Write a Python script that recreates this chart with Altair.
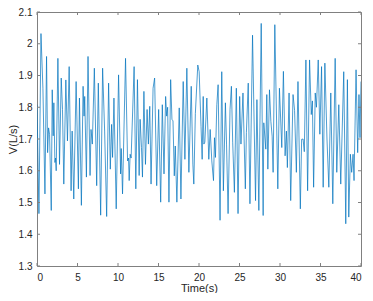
import altair as alt
import pandas as pd

# time (s) and flow (L/s) (turning points of the trace)
time_s = [
    0.00, 0.24, 0.49, 0.73, 0.98, 1.18, 1.31, 1.43, 1.55, 1.76, 1.88, 2.00, 2.08, 2.21, 2.29, 2.37,
    2.58, 2.78, 2.99, 3.15, 3.31, 3.56, 3.76, 3.97, 4.21, 4.34, 4.54, 4.83, 5.11, 5.24, 5.48, 5.69,
    5.81, 5.89, 6.10, 6.30, 6.55, 6.67, 6.83, 7.08, 7.37, 7.57, 7.86, 8.10, 8.35, 8.60, 8.84, 9.05,
    9.21, 9.33, 9.50, 9.78, 10.07, 10.32, 10.40, 10.56, 10.93, 11.18, 11.30, 11.38, 11.50, 11.62,
    11.99, 12.20, 12.40, 12.61, 12.73, 12.90, 13.02, 13.20, 13.39, 13.59, 13.75, 13.92, 14.08, 14.33,
    14.52, 14.78, 15.02, 15.27, 15.47, 15.68, 15.88, 16.01, 16.13, 16.29, 16.50, 16.66, 16.79, 16.95,
    17.07, 17.27, 17.56, 17.77, 18.05, 18.26, 18.50, 18.75, 19.04, 19.24, 19.36, 19.55, 19.85, 20.02,
    20.25, 20.39, 20.52, 20.60, 20.72, 20.97, 21.21, 21.38, 21.58, 21.79, 21.91, 22.03, 22.20, 22.36,
    22.60, 22.81, 23.01, 23.26, 23.40, 23.59, 23.83, 24.00, 24.16, 24.37, 24.61, 24.82, 25.02, 25.18,
    25.43, 25.72, 25.85, 26.08, 26.29, 26.61, 26.98, 27.15, 27.39, 27.68, 27.92, 28.00, 28.25, 28.37,
    28.50, 28.70, 28.87, 29.03, 29.15, 29.36, 29.73, 29.93, 30.22, 30.42, 30.63, 30.79, 30.91, 31.12,
    31.32, 31.61, 31.80, 32.02, 32.22, 32.51, 32.67, 32.85, 33.00, 33.20, 33.41, 33.65, 33.86, 34.00,
    34.15, 34.35, 34.50, 34.72, 34.92, 35.13, 35.33, 35.54, 35.80, 36.03, 36.27, 36.52, 36.81, 37.01,
    37.26, 37.50, 37.87, 38.12, 38.32, 38.49, 38.69, 38.85, 39.02, 39.14, 39.39, 39.59, 39.75, 39.88,
    40.00,
]
flow = [
    1.808, 1.465, 2.032, 1.860, 1.527, 1.960, 1.657, 1.735, 1.715, 1.475, 1.855, 1.710, 1.814, 1.626, 1.640, 1.600,
    1.954, 1.620, 1.892, 1.793, 1.558, 1.886, 1.694, 1.928, 1.537, 1.725, 1.511, 1.881, 1.543, 1.829, 1.491, 1.866,
    1.772, 1.834, 1.580, 1.960, 1.585, 1.730, 1.684, 1.923, 1.553, 1.876, 1.460, 1.923, 1.725, 1.456, 1.876, 1.605,
    1.746, 1.642, 1.829, 1.480, 1.902, 1.590, 1.670, 1.527, 1.954, 1.631, 1.640, 1.569, 1.652, 1.640,
    1.928, 1.543, 1.887, 1.585, 1.762, 1.673, 1.580, 1.850, 1.620, 1.793, 1.684, 1.803, 1.558, 1.860,
    1.892, 1.553, 1.793, 1.501, 1.808, 1.590, 1.834, 1.772, 1.800, 1.501, 1.887, 1.762, 1.757, 1.584,
    1.678, 1.501, 1.798, 1.511, 1.881, 1.636, 1.923, 1.595, 1.866, 1.621, 1.558, 1.780, 1.933, 1.912,
    1.740, 1.636, 1.834, 1.684, 1.690, 1.829, 1.636, 1.730, 1.631, 1.569, 1.704, 1.642, 1.808, 1.871,
    1.444, 1.912, 1.537, 1.814, 1.684, 1.465, 1.793, 1.866, 1.690, 1.532, 1.860, 1.465, 1.834, 1.684,
    1.845, 1.543, 1.720, 1.876, 1.496, 2.027, 1.506, 1.824, 1.475, 2.064, 1.459, 1.751, 1.668, 1.840,
    1.605, 1.855, 1.756, 1.709, 1.595, 2.060, 1.543, 1.860, 1.673, 1.913, 1.647, 1.725, 1.610, 1.845,
    1.506, 1.840, 1.790, 1.595, 1.881, 1.480, 1.699, 1.700, 1.660, 1.949, 1.537, 1.949, 1.777, 1.820,
    1.548, 1.845, 1.800, 1.949, 1.715, 1.928, 1.548, 1.939, 1.700, 1.548, 1.845, 1.496, 1.954, 1.595,
    1.808, 1.558, 1.912, 1.433, 1.887, 1.454, 1.652, 1.595, 1.652, 1.569, 1.918, 1.657, 1.840, 1.704,
    1.881,
]

x_ticks = [0, 5, 10, 15, 20, 25, 30, 35, 40]
y_ticks = [1.3, 1.4, 1.5, 1.6, 1.7, 1.8, 1.9, 2.0, 2.1]

W, H = 324, 254
FONT = "Liberation Sans"
TXT = "#262626"
BOX = "#808080"
TL = 3

df = pd.DataFrame({"t": time_s, "v": flow})
xt = pd.DataFrame({"t": x_ticks})
yt = pd.DataFrame({"v": y_ticks})

xscale = alt.Scale(domain=[0, 40], nice=False, zero=False)
yscale = alt.Scale(domain=[1.3, 2.1], nice=False, zero=False)

x_axis = alt.Axis(values=x_ticks, title="Time(s)", grid=False, domain=False,
                  tickSize=0, labelPadding=6, labelFontSize=10, labelFont=FONT,
                  labelColor=TXT, labelOverlap=False,
                  titleFont=FONT, titleFontSize=11,
                  titleFontWeight="normal", titleColor=TXT,
                  titleY=25, titleBaseline="alphabetic")
y_axis = alt.Axis(values=y_ticks, title="V(L/s)", grid=False, domain=False,
                  tickSize=0, labelPadding=5, labelFontSize=10, labelFont=FONT,
                  labelColor=TXT, labelOverlap=False,
                  labelExpr="datum.value == 2 ? '2' : format(datum.value, '.1f')",
                  titleFont=FONT, titleFontSize=11, titleFontWeight="normal",
                  titleColor=TXT, titleX=-21, titleY=H / 2,
                  titleBaseline="alphabetic", titleAlign="center")

line = alt.Chart(df).mark_line(color="#0072BD", strokeWidth=0.7, clip=True).encode(
    x=alt.X("t:Q", scale=xscale, axis=x_axis),
    y=alt.Y("v:Q", scale=yscale, axis=y_axis),
)

tick_style = dict(color=BOX, strokeWidth=1)
xb = alt.Chart(xt).mark_rule(**tick_style).encode(
    x=alt.X("t:Q", scale=xscale, axis=x_axis), y=alt.value(H), y2=alt.value(H - TL))
xtop = alt.Chart(xt).mark_rule(**tick_style).encode(
    x=alt.X("t:Q", scale=xscale, axis=x_axis), y=alt.value(0), y2=alt.value(TL))
yl = alt.Chart(yt).mark_rule(**tick_style).encode(
    y=alt.Y("v:Q", scale=yscale, axis=y_axis), x=alt.value(0), x2=alt.value(TL))
yr = alt.Chart(yt).mark_rule(**tick_style).encode(
    y=alt.Y("v:Q", scale=yscale, axis=y_axis), x=alt.value(W), x2=alt.value(W - TL))

chart = alt.layer(line, xb, xtop, yl, yr).properties(
    width=W, height=H,
    autosize=alt.AutoSizeParams(type="none"),
    padding={"left": 29, "top": 4, "right": 4, "bottom": 27},
    background="white",
).configure_view(stroke=BOX, strokeWidth=1)

chart.save("out.html", embed_options={"renderer": "svg", "actions": False})
